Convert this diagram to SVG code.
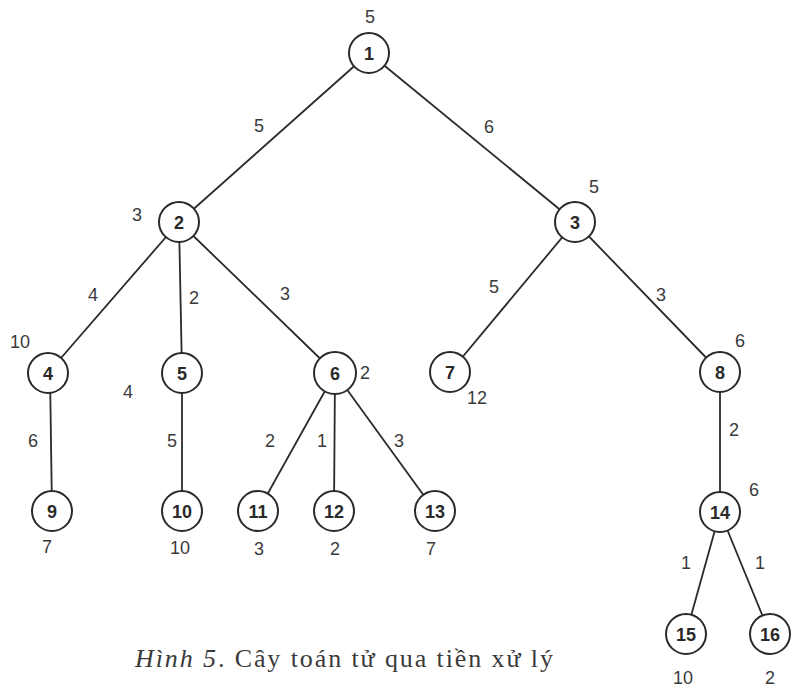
<svg xmlns="http://www.w3.org/2000/svg" width="793" height="689" viewBox="0 0 793 689">
  <style>
    .edge { stroke: #2a2a2a; stroke-width: 1.8; fill: none; }
    .node circle { fill: #ffffff; stroke: #2a2a2a; stroke-width: 2; }
    .node text { font-family: "Liberation Sans", Arial, sans-serif; font-weight: bold; font-size: 18px; fill: #2a2a2a; text-anchor: middle; dominant-baseline: central; }
    .lbl { font-family: "Liberation Sans", Arial, sans-serif; font-size: 18px; fill: #3a3a3a; text-anchor: middle; dominant-baseline: central; }
    .cap { font-family: "Liberation Serif", "Times New Roman", serif; font-size: 26px; fill: #3a3a3a; }
  </style>
  <rect width="793" height="689" fill="#ffffff"/>

  <!-- tree edges -->
  <g id="edges">
    <line class="edge" x1="369" y1="53" x2="179" y2="222"/>
    <line class="edge" x1="369" y1="53" x2="575" y2="222"/>
    <line class="edge" x1="179" y1="222" x2="48" y2="373"/>
    <line class="edge" x1="179" y1="222" x2="182" y2="373"/>
    <line class="edge" x1="179" y1="222" x2="335" y2="373"/>
    <line class="edge" x1="575" y1="222" x2="450" y2="372"/>
    <line class="edge" x1="575" y1="222" x2="720" y2="372"/>
    <line class="edge" x1="50" y1="373" x2="52" y2="511"/>
    <line class="edge" x1="182" y1="373" x2="182" y2="511"/>
    <line class="edge" x1="335" y1="373" x2="258" y2="511"/>
    <line class="edge" x1="335" y1="373" x2="334" y2="511"/>
    <line class="edge" x1="335" y1="373" x2="435" y2="511"/>
    <line class="edge" x1="720" y1="372" x2="720" y2="512"/>
    <line class="edge" x1="720" y1="512" x2="686" y2="634"/>
    <line class="edge" x1="720" y1="512" x2="770" y2="634"/>
  </g>

  <!-- nodes -->
  <g id="n1" class="node"><circle cx="369" cy="53" r="20"/><text x="369" y="54">1</text></g>
  <g id="n2" class="node"><circle cx="179" cy="222" r="20"/><text x="179" y="223">2</text></g>
  <g id="n3" class="node"><circle cx="575" cy="222" r="20"/><text x="575" y="223">3</text></g>
  <g id="n4" class="node"><circle cx="48" cy="373" r="20"/><text x="48" y="374">4</text></g>
  <g id="n5" class="node"><circle cx="182" cy="373" r="20"/><text x="182" y="374">5</text></g>
  <g id="n6" class="node"><circle cx="335" cy="373" r="21"/><text x="335" y="374">6</text></g>
  <g id="n7" class="node"><circle cx="450" cy="372" r="20"/><text x="450" y="373">7</text></g>
  <g id="n8" class="node"><circle cx="720" cy="372" r="20"/><text x="720" y="373">8</text></g>
  <g id="n9" class="node"><circle cx="52" cy="511" r="20"/><text x="52" y="512">9</text></g>
  <g id="n10" class="node"><circle cx="182" cy="511" r="20"/><text x="182" y="512">10</text></g>
  <g id="n11" class="node"><circle cx="258" cy="511" r="20"/><text x="258" y="512">11</text></g>
  <g id="n12" class="node"><circle cx="334" cy="511" r="20"/><text x="334" y="512">12</text></g>
  <g id="n13" class="node"><circle cx="435" cy="511" r="20"/><text x="435" y="512">13</text></g>
  <g id="n14" class="node"><circle cx="720" cy="512" r="20"/><text x="720" y="513">14</text></g>
  <g id="n15" class="node"><circle cx="686" cy="634" r="20"/><text x="686" y="635">15</text></g>
  <g id="n16" class="node"><circle cx="770" cy="634" r="20"/><text x="770" y="635">16</text></g>

  <!-- edge weights -->
  <g id="edge-labels">
    <text class="lbl" x="259" y="126">5</text>
    <text class="lbl" x="489" y="127">6</text>
    <text class="lbl" x="93" y="295">4</text>
    <text class="lbl" x="194" y="298">2</text>
    <text class="lbl" x="285" y="294">3</text>
    <text class="lbl" x="494" y="287">5</text>
    <text class="lbl" x="661" y="295">3</text>
    <text class="lbl" x="33" y="441">6</text>
    <text class="lbl" x="172" y="441">5</text>
    <text class="lbl" x="270" y="441">2</text>
    <text class="lbl" x="322" y="441">1</text>
    <text class="lbl" x="399" y="441">3</text>
    <text class="lbl" x="734" y="430">2</text>
    <text class="lbl" x="686" y="563">1</text>
    <text class="lbl" x="760" y="563">1</text>
  </g>

  <!-- node weights -->
  <g id="node-labels">
    <text class="lbl" x="370" y="17">5</text>
    <text class="lbl" x="137" y="215">3</text>
    <text class="lbl" x="594" y="187">5</text>
    <text class="lbl" x="20" y="342">10</text>
    <text class="lbl" x="128" y="392">4</text>
    <text class="lbl" x="365" y="373">2</text>
    <text class="lbl" x="477" y="398">12</text>
    <text class="lbl" x="740" y="341">6</text>
    <text class="lbl" x="754" y="490">6</text>
    <text class="lbl" x="47" y="547">7</text>
    <text class="lbl" x="180" y="548">10</text>
    <text class="lbl" x="259" y="549">3</text>
    <text class="lbl" x="335" y="549">2</text>
    <text class="lbl" x="431" y="549">7</text>
    <text class="lbl" x="683" y="678">10</text>
    <text class="lbl" x="770" y="678">2</text>
  </g>

  <!-- caption -->
  <text class="cap" x="135" y="667" textLength="418" lengthAdjust="spacing"><tspan font-style="italic">Hình 5</tspan>. Cây toán tử qua tiền xử lý</text>
</svg>
